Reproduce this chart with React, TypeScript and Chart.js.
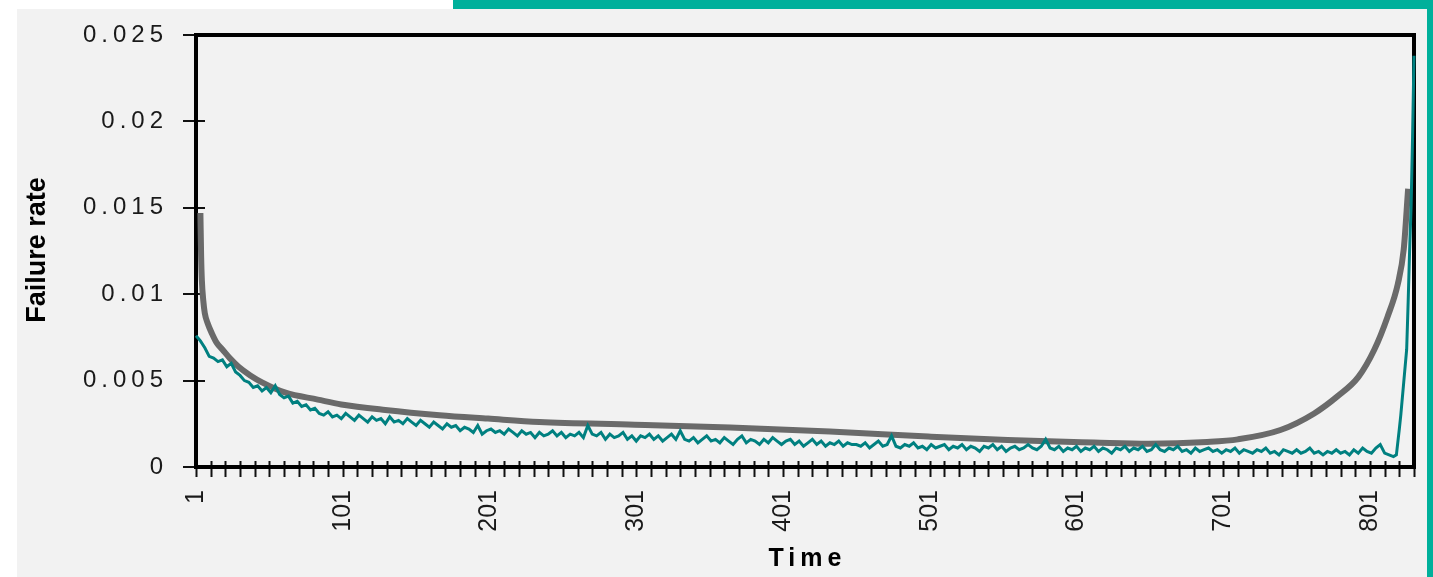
import { useEffect, useRef } from 'react';
import { Chart, registerables } from 'chart.js';

Chart.register(...registerables);

// ---- axis definitions ----
const yTickValues = [0, 0.005, 0.01, 0.015, 0.02, 0.025];
const yTickLabels = ['0', '0.005', '0.01', '0.015', '0.02', '0.025'];
const xLabelValues = [1, 101, 201, 301, 401, 501, 601, 701, 801];
const xLabelTexts = ['1', '101', '201', '301', '401', '501', '601', '701', '801'];
const xMin = 1;
const xMax = 831;
const xMinorStep = 10;
const yTitle = 'Failure rate';
const xTitle = 'Time';

// ---- observed failure rate (teal), sampled every 3 time units from t = 1 ----
const tealStart = 1;
const tealStep = 3;
const tealRate = [
  0.0076, 0.0073, 0.0069, 0.0064, 0.0063, 0.0061, 0.0062, 0.0058, 0.006, 0.0055,
  0.0053, 0.005, 0.0049, 0.0046, 0.0047, 0.0044, 0.0046, 0.0043, 0.0047, 0.0042,
  0.004, 0.0041, 0.0037, 0.0038, 0.0035, 0.0036, 0.0033, 0.0034, 0.0031, 0.003,
  0.0032, 0.0029, 0.003, 0.0028, 0.0031, 0.0029, 0.0027, 0.003, 0.0028, 0.0026,
  0.0029, 0.0027, 0.0028, 0.0025, 0.0029, 0.0026, 0.0027, 0.0025, 0.0028, 0.0026,
  0.0024, 0.0027, 0.0025, 0.0023, 0.0026, 0.0024, 0.0022, 0.0025, 0.0023, 0.0024,
  0.0021, 0.0023, 0.0022, 0.002, 0.0024, 0.0019, 0.0021, 0.0022, 0.002, 0.0021,
  0.0019, 0.0022, 0.002, 0.0018, 0.0021, 0.0019, 0.002, 0.0017, 0.002, 0.0018,
  0.0019, 0.0021, 0.0018, 0.002, 0.0017, 0.0019, 0.0018, 0.002, 0.0017, 0.0024,
  0.0019, 0.0018, 0.002, 0.0016, 0.0019, 0.0017, 0.0018, 0.002, 0.0016, 0.0018,
  0.0015, 0.0018, 0.0017, 0.0019, 0.0016, 0.0018, 0.0015, 0.0017, 0.0019, 0.0016,
  0.0021, 0.0016, 0.0015, 0.0017, 0.0014, 0.0016, 0.0018, 0.0015, 0.0016, 0.0014,
  0.0017, 0.0015, 0.0013, 0.0016, 0.0018, 0.0014, 0.0016, 0.0015, 0.0013, 0.0016,
  0.0014, 0.0017, 0.0015, 0.0013, 0.0015, 0.0016, 0.0013, 0.0015, 0.0012, 0.0014,
  0.0016, 0.0013, 0.0015, 0.0012, 0.0014, 0.0013, 0.0015, 0.0012, 0.0014, 0.0013,
  0.0013, 0.0012, 0.0014, 0.0011, 0.0013, 0.0015, 0.0012, 0.0013, 0.0018, 0.0012,
  0.0011, 0.0013, 0.0012, 0.0014, 0.0011, 0.0012, 0.001, 0.0013, 0.0011, 0.0012,
  0.0013, 0.001, 0.0012, 0.0011, 0.0013, 0.001, 0.0012, 0.0011, 0.0009, 0.0012,
  0.0011, 0.0013, 0.001, 0.0012, 0.0009, 0.0011, 0.0012, 0.001, 0.0011, 0.0013,
  0.0011, 0.001, 0.0012, 0.0016, 0.0011, 0.001, 0.0012, 0.0009, 0.0011, 0.001,
  0.0012, 0.0009, 0.0011, 0.001, 0.0012, 0.0009, 0.0011, 0.001, 0.0008, 0.0011,
  0.001, 0.0012, 0.0009, 0.0011, 0.001, 0.0012, 0.0009, 0.001, 0.0013, 0.001,
  0.0009, 0.0011, 0.001, 0.0012, 0.0009, 0.001, 0.0008, 0.0011, 0.0009, 0.001,
  0.0011, 0.0009, 0.001, 0.0008, 0.001, 0.0009, 0.0011, 0.0008, 0.001, 0.0009,
  0.0008, 0.001, 0.0009, 0.0011, 0.0008, 0.0009, 0.0007, 0.001, 0.0009, 0.0008,
  0.001, 0.0008, 0.0009, 0.0011, 0.0008, 0.0009, 0.0007, 0.0009, 0.0008, 0.001,
  0.0008, 0.0009, 0.0007, 0.001, 0.0008, 0.0011, 0.0009, 0.0008, 0.0011, 0.0013,
  0.0008, 0.0007, 0.0006,
];
// end-of-life spike of the observed rate
const tailTime = [819, 821, 822, 824, 826, 827, 828, 829, 830, 831];
const tailRate = [0.0007, 0.0022, 0.003, 0.0049, 0.0068, 0.0095, 0.0125, 0.015, 0.019, 0.0238];

// ---- fitted bathtub curve (gray) ----
const grayTime = [4, 4.5, 5, 6, 7, 9, 12, 15, 19, 24, 30, 38, 46, 62, 84, 100, 130, 167, 200, 235, 300, 365, 433, 500, 554, 613, 650, 690, 711, 740, 763, 779, 793, 804, 813, 820, 824, 827];
const grayRate = [0.0147, 0.0122, 0.0108, 0.0096, 0.0089, 0.0083, 0.0077, 0.0072, 0.0068, 0.0063, 0.0058, 0.0053, 0.0049, 0.0043, 0.0039, 0.00362, 0.0033, 0.003, 0.0028, 0.0026, 0.00245, 0.00228, 0.00205, 0.00176, 0.00156, 0.00142, 0.00135, 0.00145, 0.0016, 0.00214, 0.0031, 0.0041, 0.0052, 0.0068, 0.0087, 0.0106, 0.0126, 0.0161];

const TEAL = '#008080';
const GRAY = '#6a6a6a';
const FONT = "'Liberation Sans', Arial, sans-serif";

function drawSpaced(ctx: CanvasRenderingContext2D, text: string, x: number, y: number, spacing: number, align: 'left' | 'right' | 'center') {
  (ctx as any).letterSpacing = spacing + 'px';
  ctx.textAlign = align;
  let dx = 0;
  if (align === 'right') dx = spacing;
  if (align === 'center') dx = spacing / 2;
  ctx.fillText(text, x + dx, y);
  (ctx as any).letterSpacing = '0px';
}

const framePlugin = {
  id: 'framePlugin',
  beforeDatasetsDraw(chart: any) {
    const { ctx, chartArea: a, scales } = chart;
    const xs = scales.x;
    const ys = scales.y;
    ctx.save();
    ctx.strokeStyle = '#111';
    ctx.lineWidth = 2;
    ctx.beginPath();
    for (const t of xs.ticks) {
      const px = Math.round(xs.getPixelForValue(t.value)) + 0.5;
      ctx.moveTo(px, a.bottom - 6);
      ctx.lineTo(px, a.bottom + 10);
    }
    for (const t of ys.ticks) {
      const py = Math.round(ys.getPixelForValue(t.value));
      ctx.moveTo(a.left - 13, py);
      ctx.lineTo(a.left + (t.value > 0 ? 9 : 0), py);
    }
    ctx.stroke();
    ctx.strokeStyle = '#000';
    ctx.lineWidth = 4;
    ctx.strokeRect(a.left, a.top, a.right - a.left, a.bottom - a.top);
    ctx.restore();
  },
  afterDraw(chart: any) {
    const { ctx, chartArea: a, scales } = chart;
    const xs = scales.x;
    const ys = scales.y;
    ctx.save();
    ctx.fillStyle = '#1a1a1a';
    // y tick labels
    ctx.font = `24px ${FONT}`;
    ctx.textBaseline = 'middle';
    yTickValues.forEach((v, i) => {
      const py = ys.getPixelForValue(v);
      drawSpaced(ctx, yTickLabels[i], a.left - 33, py, 5, 'right');
    });
    // x tick labels (rotated)
    ctx.font = `25px ${FONT}`;
    xLabelValues.forEach((v, i) => {
      const px = xs.getPixelForValue(v);
      ctx.save();
      ctx.translate(px, a.bottom + 23);
      ctx.rotate(-Math.PI / 2);
      ctx.textBaseline = 'middle';
      drawSpaced(ctx, xLabelTexts[i], 0, 0, 0, 'right');
      ctx.restore();
    });
    // axis titles
    ctx.fillStyle = '#000';
    ctx.font = `bold 27px ${FONT}`;
    ctx.save();
    ctx.translate(21, 241);
    ctx.rotate(-Math.PI / 2);
    ctx.textBaseline = 'middle';
    drawSpaced(ctx, yTitle, 0, 0, 0, 'center');
    ctx.restore();
    ctx.font = `bold 25px ${FONT}`;
    ctx.textBaseline = 'middle';
    drawSpaced(ctx, xTitle, (a.left + a.right) / 2, 550, 5, 'center');
    ctx.restore();
  },
};

export default function App() {
  const ref = useRef<HTMLCanvasElement | null>(null);

  useEffect(() => {
    const canvas = ref.current;
    if (!canvas) return;
    const tealPoints = tealRate.map((r, i) => ({ x: tealStart + i * tealStep, y: r }));
    tailTime.forEach((t, i) => tealPoints.push({ x: t, y: tailRate[i] }));
    const grayPoints = grayTime.map((t, i) => ({ x: t, y: grayRate[i] }));

    const chart = new Chart(canvas, {
      type: 'line',
      data: {
        datasets: [
          {
            label: 'Observed',
            data: tealPoints,
            borderColor: TEAL,
            borderWidth: 3,
            pointRadius: 0,
            tension: 0,
            clip: false as any,
          },
          {
            label: 'Fitted',
            data: grayPoints,
            borderColor: GRAY,
            borderWidth: 6,
            pointRadius: 0,
            cubicInterpolationMode: 'monotone',
            clip: false as any,
          },
        ],
      },
      options: {
        animation: false,
        responsive: false,
        events: [],
        layout: { padding: { left: 0, right: 13, top: 26, bottom: 0 } },
        plugins: { legend: { display: false }, tooltip: { enabled: false } },
        scales: {
          x: {
            type: 'linear',
            min: xMin,
            max: xMax,
            grid: { display: false },
            border: { display: false },
            ticks: { display: false },
            afterBuildTicks: (s: any) => {
              const ticks = [];
              for (let v = xMin; v <= xMax; v += xMinorStep) ticks.push({ value: v });
              s.ticks = ticks;
            },
            afterFit: (s: any) => {
              s.height = 110;
            },
          },
          y: {
            type: 'linear',
            min: 0,
            max: 0.025,
            grid: { display: false },
            border: { display: false },
            ticks: { display: false },
            afterBuildTicks: (s: any) => {
              s.ticks = yTickValues.map((v) => ({ value: v }));
            },
            afterFit: (s: any) => {
              s.width = 179;
            },
          },
        },
      },
      plugins: [framePlugin],
    });
    return () => chart.destroy();
  }, []);

  return (
    <div style={{ position: 'fixed', left: 0, top: 0, width: 1433, height: 577, background: '#fff', overflow: 'hidden' }}>
      <div style={{ position: 'absolute', left: 453, top: 0, width: 980, height: 9, background: '#00b09b' }} />
      <div style={{ position: 'absolute', left: 1427, top: 0, width: 6, height: 577, background: '#00b09b' }} />
      <div style={{ position: 'absolute', left: 17, top: 9, width: 1410, height: 568, background: '#f2f2f2' }}>
        <canvas ref={ref} width={1410} height={568} style={{ display: 'block', width: 1410, height: 568 }} />
      </div>
    </div>
  );
}
